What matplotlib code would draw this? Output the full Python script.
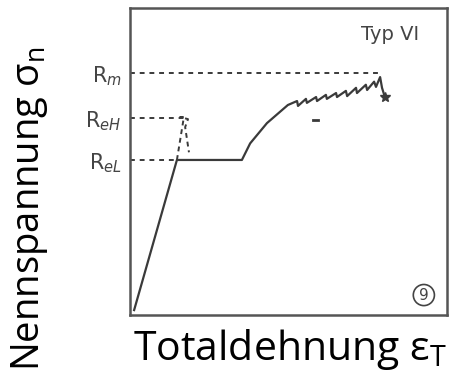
import matplotlib.pyplot as plt

# Kurve in Achsen-Einheiten (0..100)
dehnung = [1.3, 14.8, 35.3, 37.9, 43.2, 49.8, 52.7, 53.0, 55.5, 55.8, 58.7, 59.0,
           61.8, 62.1, 65.0, 65.3, 68.1, 68.5, 71.3, 71.6, 74.4, 74.8, 77.0, 77.6,
           78.9, 79.5, 80.4]
spannung = [1.6, 50.5, 50.5, 55.9, 62.5, 68.4, 69.7, 68.1, 70.4, 69.1, 71.0, 69.7,
            71.7, 70.4, 72.3, 71.0, 73.0, 71.3, 74.0, 72.3, 75.0, 73.3, 76.0, 74.3,
            77.5, 74.0, 71.0]
bruch = (80.4, 71.0)

# obere Streckgrenze (gestrichelt)
reh_x = [14.8, 17.0, 15.8, 18.3, 17.4, 18.6]
reh_y = [50.5, 64.5, 64.5, 63.8, 61.2, 53.0]

Rm, ReH, ReL = 78.8, 64.2, 50.5
kennwerte = [Rm, ReH, ReL]
kenn_labels = ['R$_m$', 'R$_{eH}$', 'R$_{eL}$']

fig = plt.figure(figsize=(4.51, 3.80), dpi=100)
ax = fig.add_axes([130/451, 1 - 315/380, 317/451, 307/380])
c = '#3a3a3a'

ax.plot(dehnung, spannung, color=c, lw=1.6)
ax.plot(bruch[0], bruch[1], marker='*', color=c, ms=7)
ax.plot(reh_x, reh_y, color=c, lw=1.4, ls=(0, (2.5, 2)))
ax.plot([57.8, 59.2], [63.5, 63.5], color=c, lw=2)  # kleiner Fleck

# gestrichelte Hilfslinien
ax.hlines(Rm, 0, 79, color=c, lw=1.4, ls=(0, (2.5, 2.5)))
ax.hlines(ReH, 0, 17, color=c, lw=1.4, ls=(0, (2.5, 2.5)))
ax.hlines(ReL, 0, 14.8, color=c, lw=1.4, ls=(0, (2.5, 2.5)))

ax.set_xlim(0, 100)
ax.set_ylim(0, 100)
ax.set_xticks([])
ax.set_yticks(kennwerte, labels=kenn_labels)
ax.tick_params(axis='y', length=0, pad=6, labelsize=15, labelcolor='#444444')
for s in ax.spines.values():
    s.set_color('#555555')
    s.set_linewidth(1.8)

ax.text(82, 91.5, 'Typ VI', fontsize=14, color='#444444', ha='center', va='center')
ax.text(92.7, 6.5, '9', fontsize=11, color='#444444', ha='center', va='center',
        bbox=dict(boxstyle='circle,pad=0.2', fc='none', ec='#444444', lw=1.2))

fig.text(133/451, 1 - 360/380, 'Totaldehnung ε$_\\mathregular{T}$', fontsize=29.5,
         family='Open Sans', ha='left', va='baseline')
fig.text(30/451, 1 - 209/380, 'Nennspannung σ$_\\mathregular{n}$', fontsize=27.5,
         family='Open Sans', rotation=90, ha='center', va='center')

fig.savefig('out.png', dpi=100)
